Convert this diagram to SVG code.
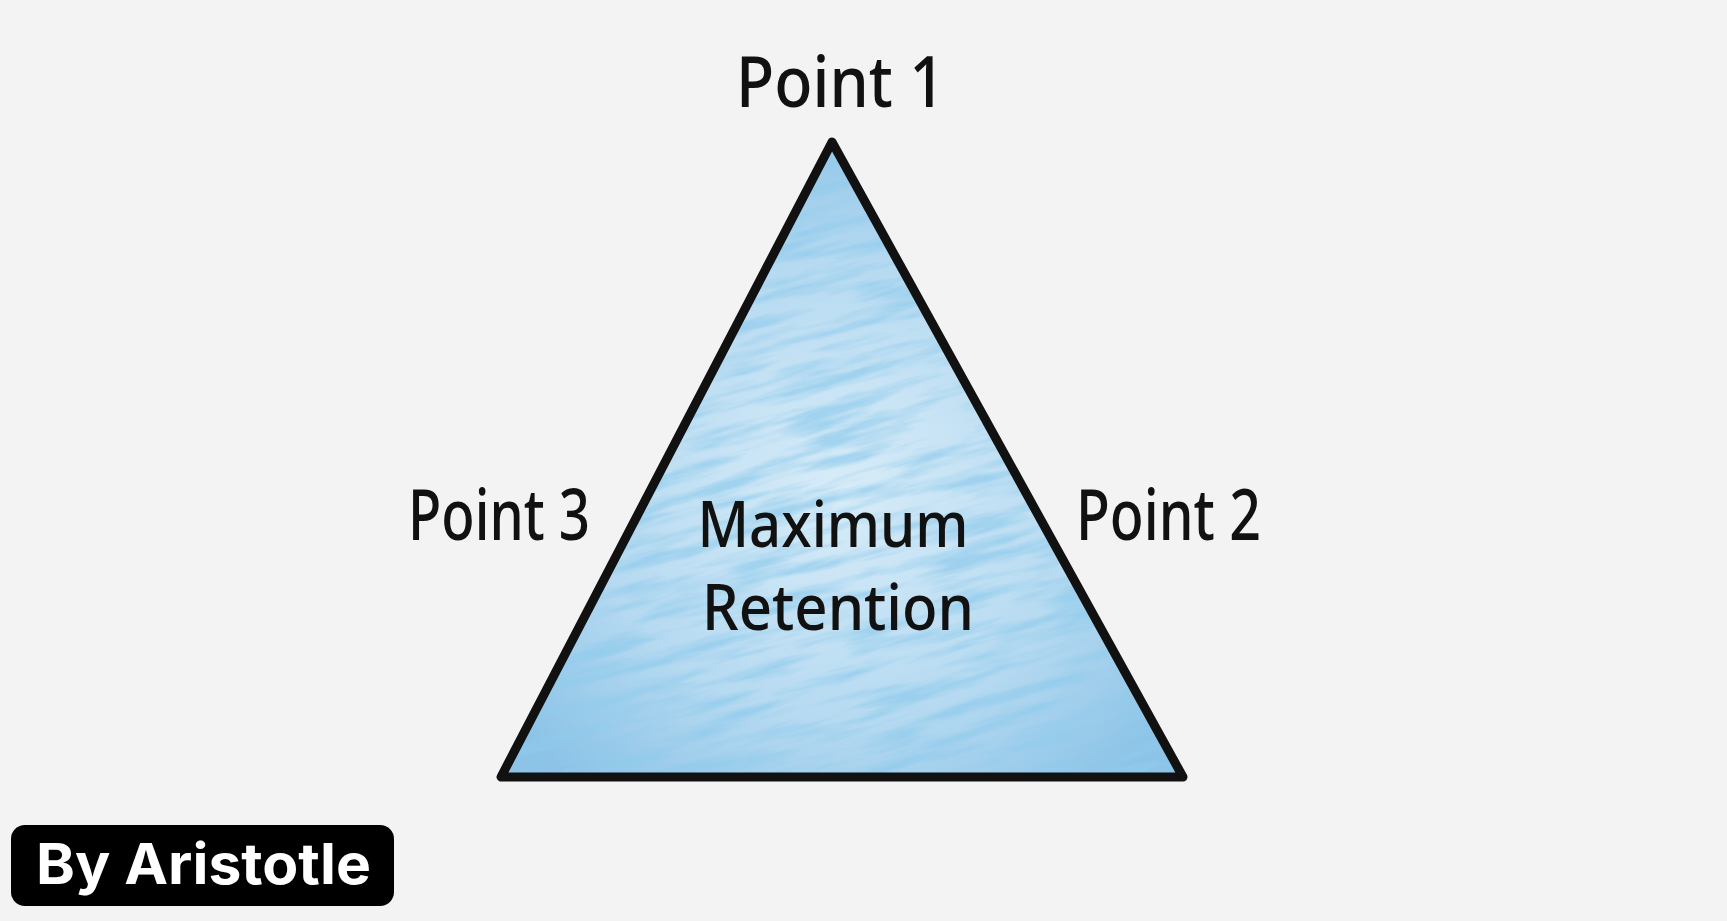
<svg xmlns="http://www.w3.org/2000/svg" width="1727" height="921" viewBox="0 0 1727 921">
<style>
.lbl{font-family:"Noto Sans","Liberation Sans",sans-serif;font-size:70px;font-weight:500;fill:#111;}
.mid{font-size:64px;}
.badge{font-family:Inter,"Liberation Sans",sans-serif;font-weight:700;font-size:56px;fill:#fff;}
</style>
<defs>
<radialGradient id="g" cx="0.5" cy="0.55" r="0.6">
<stop offset="0" stop-color="#d8ecf8"/>
<stop offset="0.6" stop-color="#b6daf1"/>
<stop offset="1" stop-color="#8cc3e7"/>
</radialGradient>
<filter id="tex" x="0" y="0" width="100%" height="100%">
<feTurbulence type="fractalNoise" baseFrequency="0.01 0.08" numOctaves="4" seed="7" result="n"/>
<feColorMatrix in="n" type="matrix" values="0 0 0 0 0.28  0 0 0 0 0.60  0 0 0 0 0.84  0 0 0 -3 1.75" result="c"/>
<feComposite in="c" in2="SourceGraphic" operator="in"/>
</filter>
<clipPath id="tri"><polygon points="832,142 501,777 1183,777"/></clipPath>
</defs>
<rect width="1727" height="921" fill="#f3f3f3"/>
<g id="triangle">
<polygon points="832,142 501,777 1183,777" fill="url(#g)"/>
<g clip-path="url(#tri)">
<rect x="400" y="100" width="900" height="760" fill="#fff" filter="url(#tex)" opacity="0.7" transform="rotate(-15 842 460)"/>
</g>
<polygon points="832,142 501,777 1183,777" fill="none" stroke="#111" stroke-width="9" stroke-linejoin="round"/>
<text class="lbl mid" x="833" y="547" text-anchor="middle" textLength="271" lengthAdjust="spacingAndGlyphs">Maximum</text>
<text class="lbl mid" x="838" y="630" text-anchor="middle" textLength="272" lengthAdjust="spacingAndGlyphs">Retention</text>
</g>
<g id="point1"><text class="lbl" x="736" y="107" textLength="209" lengthAdjust="spacingAndGlyphs">Point 1</text></g>
<g id="point2"><text class="lbl" x="1076" y="540" textLength="185" lengthAdjust="spacingAndGlyphs">Point 2</text></g>
<g id="point3"><text class="lbl" x="408" y="540" textLength="182" lengthAdjust="spacingAndGlyphs">Point 3</text></g>
<g id="connectors"></g>
<g id="badge">
<rect x="11" y="825" width="383" height="81" rx="14" fill="#000"/>
<text class="badge" x="36" y="884" textLength="335" lengthAdjust="spacingAndGlyphs">By Aristotle</text>
</g>
</svg>
